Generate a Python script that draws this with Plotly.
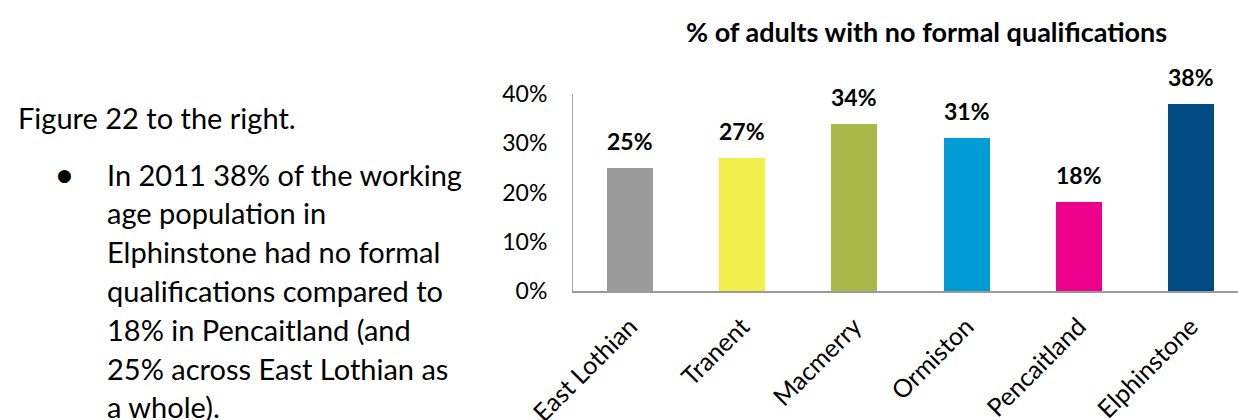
import plotly.graph_objects as go

# Share of adults with no formal qualifications, by area
areas = ["East Lothian", "Tranent", "Macmerry", "Ormiston", "Pencaitland", "Elphinstone"]
pct_no_quals = [25, 27, 34, 31, 18, 38]
bar_colors = ["#9B9B9B", "#F2EF4C", "#A8B849", "#009CD6", "#EC008C", "#014A82"]
y_ticks = [0, 10, 20, 30, 40]
y_tick_labels = ["0%", "10%", "20%", "30%", "40%"]

chart_title = "% of adults with no formal qualifications"
intro_line = "Figure 22 to the right."
bullet_lines = [
    "In 2011 38% of the working",
    "age population in",
    "Elphinstone had no formal",
    "qualifications compared to",
    "18% in Pencaitland (and",
    "25% across East Lothian as",
    "a whole).",
]

W, H = 1238, 420
FONT = "Lato"

fig = go.Figure()
fig.add_trace(go.Bar(
    x=list(range(len(areas))),
    y=pct_no_quals,
    marker=dict(color=bar_colors, line=dict(width=0)),
    width=0.41,
    hoverinfo="skip",
))

# value labels above each bar
for i, v in enumerate(pct_no_quals):
    fig.add_annotation(
        x=i, y=v, xref="x", yref="y",
        text=f"<b>{v}%</b>", showarrow=False,
        yanchor="bottom", yshift=11,
        font=dict(family=FONT, size=23, color="#000000"),
    )

# chart heading
fig.add_annotation(
    x=926 / W, y=1 - 32 / H, xref="paper", yref="paper",
    text=f"<b>{chart_title}</b>", showarrow=False,
    xanchor="center", yanchor="middle",
    font=dict(family=FONT, size=27, color="#000000"),
)

# body text on the left
fig.add_annotation(
    x=16 / W, y=1 - 117 / H, xref="paper", yref="paper",
    text=intro_line, showarrow=False, xanchor="left", yanchor="middle",
    font=dict(family=FONT, size=29, color="#000000"),
)
fig.add_annotation(
    x=64 / W, y=1 - 175 / H, xref="paper", yref="paper",
    text="●", showarrow=False, xanchor="center", yanchor="middle",
    font=dict(family="DejaVu Sans", size=17, color="#000000"),
)
line_gap = 38.8
for k, line in enumerate(bullet_lines):
    fig.add_annotation(
        x=105 / W, y=1 - (174 + k * line_gap) / H, xref="paper", yref="paper",
        text=line, showarrow=False, xanchor="left", yanchor="middle",
        font=dict(family=FONT, size=29, color="#000000"),
    )

fig.update_layout(
    width=W, height=H,
    margin=dict(l=0, r=0, t=0, b=0, autoexpand=False),
    paper_bgcolor="white", plot_bgcolor="white",
    showlegend=False,
    bargap=0,
    xaxis=dict(
        domain=[573 / W, 1.0],
        range=[-0.508, 5.42],
        tickmode="array",
        tickvals=list(range(len(areas))),
        ticktext=areas,
        tickangle=-45,
        tickfont=dict(family=FONT, size=25, color="#000000"),
        ticks="outside", ticklen=9, tickcolor="rgba(0,0,0,0)",
        showline=True, linecolor="#9A9A9A", linewidth=2,
        showgrid=False, zeroline=False, fixedrange=True,
        automargin=False,
    ),
    yaxis=dict(
        domain=[1 - 291 / H, 1 - 94 / H],
        range=[0, 40],
        tickmode="array",
        tickvals=y_ticks,
        ticktext=y_tick_labels,
        tickfont=dict(family=FONT, size=23, color="#000000"),
        ticks="outside", ticklen=20, tickcolor="rgba(0,0,0,0)",
        showline=True, linecolor="#A6A6A6", linewidth=1,
        showgrid=False, zeroline=False, fixedrange=True,
        automargin=False,
    ),
)

fig.write_html("out.html")
